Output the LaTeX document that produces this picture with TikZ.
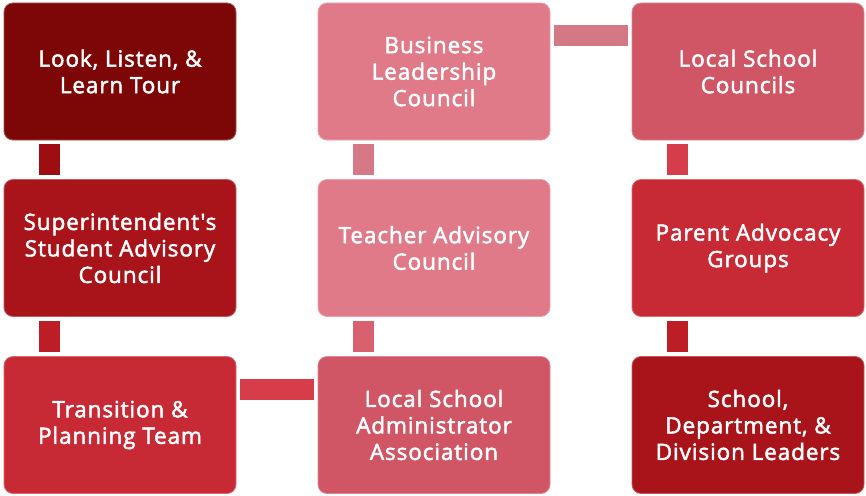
\documentclass[tikz,border=0pt]{standalone}
\usepackage{fontspec}
\setmainfont{Open Sans}
\newfontfamily\boxfont{Open Sans}[FakeBold=2.2,LetterSpace=4]
\definecolor{cA}{HTML}{7D0707}
\definecolor{cB}{HTML}{A8141A}
\definecolor{cC}{HTML}{C72A35}
\definecolor{cD}{HTML}{D05565}
\definecolor{cE}{HTML}{E07A88}
\definecolor{kA}{HTML}{9E0D10}
\definecolor{kB}{HTML}{BD1E25}
\definecolor{kC}{HTML}{D63C4A}
\definecolor{kD}{HTML}{D8606F}
\definecolor{kE}{HTML}{D57886}
\begin{document}
\begin{tikzpicture}[x=1pt,y=-1pt,
  box/.style={rectangle, rounded corners=9pt, minimum width=232pt, minimum height=137pt,
    inner sep=0pt, text=white, align=center, font=\boxfont\fontsize{22.5}{26.5}\selectfont,
    line width=0.8pt},
  link/.style={line width=21pt, line cap=butt}]
\useasboundingbox (0,0) rectangle (866,495);
\node[box, fill=cA, draw=cA!70!white] (look) at (120,71.5) {Look, Listen, \&\\Learn Tour};
\node[box, fill=cB, draw=cB!70!white] (supt) at (120,248) {Superintendent{\char"0027}s\\Student Advisory\\Council};
\node[box, fill=cC, draw=cC!70!white] (trans) at (120,425) {Transition \&\\Planning Team};
\node[box, fill=cE, draw=cE!70!white] (bus) at (434,71.5) {Business\\Leadership\\Council};
\node[box, fill=cE, draw=cE!70!white] (teach) at (434,248) {Teacher Advisory\\Council};
\node[box, fill=cD, draw=cD!70!white] (lsaa) at (434,425) {Local School\\Administrator\\Association};
\node[box, fill=cD, draw=cD!70!white] (lsc) at (748,71.5) {Local School\\Councils};
\node[box, fill=cC, draw=cC!70!white] (parent) at (748,248) {Parent Advocacy\\Groups};
\node[box, fill=cB, draw=cB!70!white] (school) at (748,425) {School,\\Department, \&\\Division Leaders};
% connectors
\draw[link, kA] ([xshift=-70.5pt,yshift=-4pt]look.south) -- ([xshift=-70.5pt,yshift=4pt]supt.north);
\draw[link, kB] ([xshift=-70.5pt,yshift=-4pt]supt.south) -- ([xshift=-70.5pt,yshift=4pt]trans.north);
\draw[link, kE!80!cE] ([xshift=-70.5pt,yshift=-4pt]bus.south) -- ([xshift=-70.5pt,yshift=4pt]teach.north);
\draw[link, kD] ([xshift=-70.5pt,yshift=-4pt]teach.south) -- ([xshift=-70.5pt,yshift=4pt]lsaa.north);
\draw[link, kC] ([xshift=-70.5pt,yshift=-4pt]lsc.south) -- ([xshift=-70.5pt,yshift=4pt]parent.north);
\draw[link, kB] ([xshift=-70.5pt,yshift=-4pt]parent.south) -- ([xshift=-70.5pt,yshift=4pt]school.north);
\draw[link, kC] ([xshift=4pt,yshift=35.5pt]trans.east) -- ([xshift=-4pt,yshift=35.5pt]lsaa.west);
\draw[link, kE] ([xshift=4pt,yshift=36pt]bus.east) -- ([xshift=-4pt,yshift=36pt]lsc.west);
\end{tikzpicture}
\end{document}
